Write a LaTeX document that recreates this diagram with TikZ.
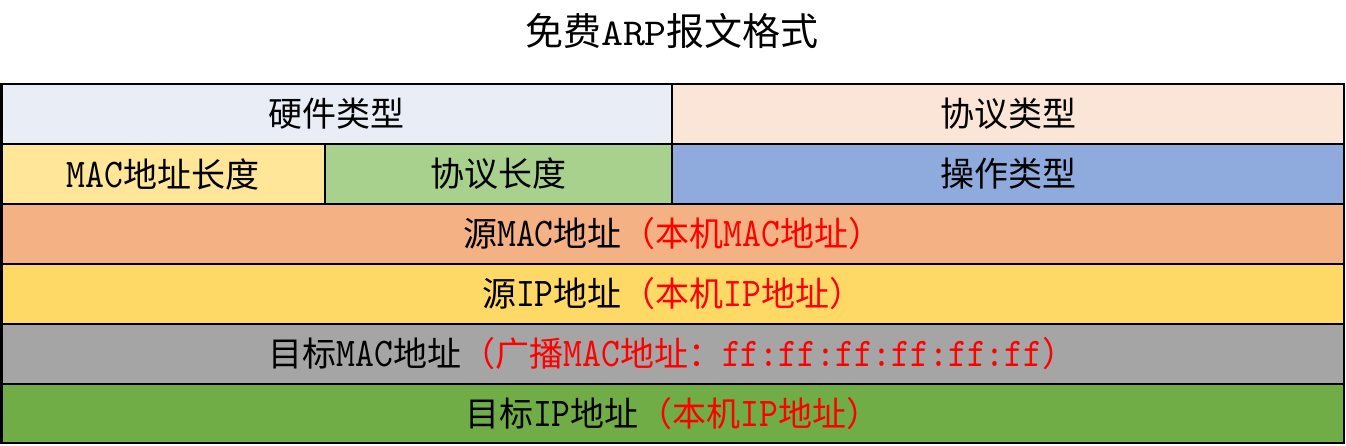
\documentclass[tikz,border=0pt]{standalone}
\usepackage{fontspec}
\setmainfont{Noto Sans CJK SC}
\newfontfamily\latf{lmmono10-regular}[Extension=.otf,Scale=1.2,FakeStretch=0.88]
\newfontfamily\tlatf{lmmono10-regular}[Extension=.otf,FakeStretch=1.1]
\newcommand\LT[1]{{\latf #1}}
\newcommand\TL[1]{{\tlatf #1}}
\definecolor{hwc}{HTML}{E9EDF5}
\definecolor{ptc}{HTML}{FBE5D6}
\definecolor{macl}{HTML}{FFE699}
\definecolor{prl}{HTML}{A9D18E}
\definecolor{opc}{HTML}{8FAADC}
\definecolor{smac}{HTML}{F4B183}
\definecolor{sip}{HTML}{FFD966}
\definecolor{dmac}{HTML}{A5A5A5}
\definecolor{dip}{HTML}{70AD47}
\definecolor{hl}{HTML}{FF0000}
\begin{document}
\begin{tikzpicture}[x=1pt,y=-1pt,
  cell/.style={draw=black, line width=2.5pt, rectangle, inner sep=0pt,
    font=\fontsize{34}{40}\selectfont, text=black},
  halfw/.style={minimum width=670.5pt, minimum height=60pt},
  fullw/.style={minimum width=1342.5pt, minimum height=60pt},
  titlestyle/.style={inner sep=0pt, font=\fontsize{38}{44}\selectfont}]
\useasboundingbox (0,0) rectangle (1346,445);
\node[titlestyle] (title) at (672,31) {免费\TL{ARP}报文格式};
% row 1
\node[cell, halfw, fill=hwc] (hw) at (336.75,114) {硬件类型};
\node[cell, minimum width=672pt, minimum height=60pt, fill=ptc] (pt) at (1008,114) {协议类型};
% row 2
\node[cell, minimum width=323.5pt, minimum height=60pt, fill=macl] (ml) at (163.25,174) {\LT{MAC}地址长度};
\node[cell, minimum width=347pt, minimum height=60pt, fill=prl] (pl) at (498.5,174) {协议长度};
\node[cell, minimum width=672pt, minimum height=60pt, fill=opc] (op) at (1008,174) {操作类型};
% rows 3-6
\node[cell, fullw, fill=smac] (sm) at (672.75,234) {源\LT{MAC}地址\textcolor{hl}{（本机\LT{MAC}地址）}};
\node[cell, fullw, fill=sip] (si) at (672.75,294) {源\LT{IP}地址\textcolor{hl}{（本机\LT{IP}地址）}};
\node[cell, fullw, fill=dmac] (dm) at (672.75,354) {目标\LT{MAC}地址\textcolor{hl}{（广播\LT{MAC}地址：\LT{ff:ff:ff:ff:ff:ff}）}};
\node[cell, fullw, minimum height=59pt, fill=dip] (di) at (672.75,413.5) {目标\LT{IP}地址\textcolor{hl}{（本机\LT{IP}地址）}};
\end{tikzpicture}
\end{document}
